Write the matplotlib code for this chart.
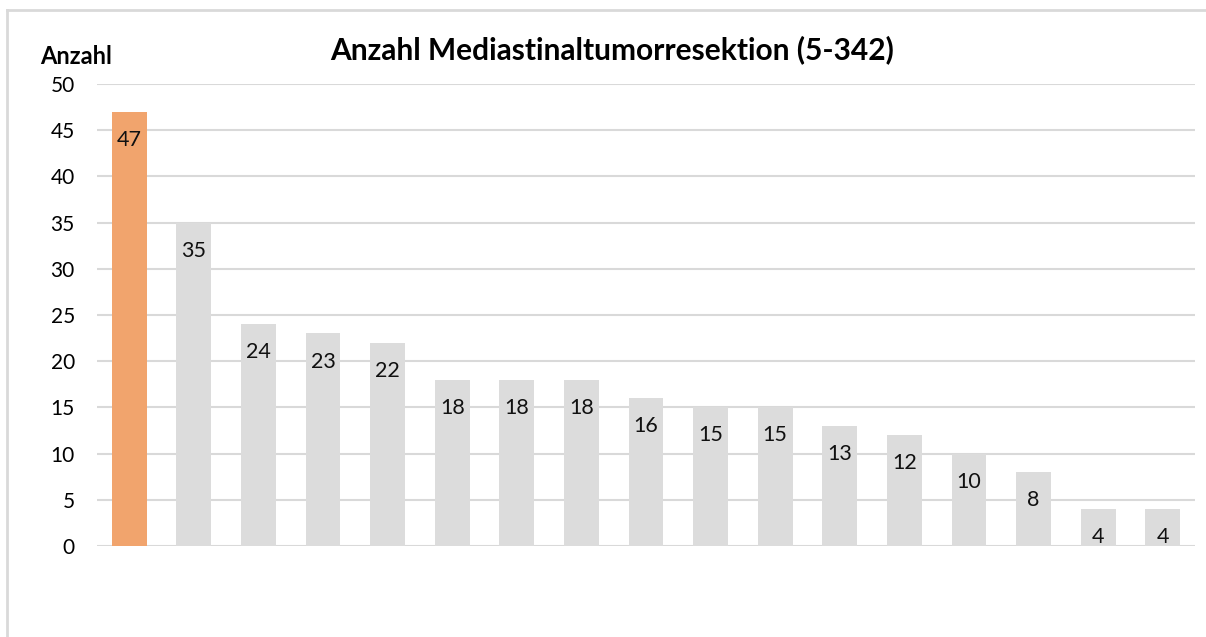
import matplotlib
matplotlib.use("Agg")
import matplotlib.pyplot as plt
from matplotlib.lines import Line2D

plt.rcParams['font.family'] = ['Lato', 'DejaVu Sans']

values = [47, 35, 24, 23, 22, 18, 18, 18, 16, 15, 15, 13, 12, 10, 8, 4, 4]
colors = ['#f1a46d'] + ['#dcdcdc'] * (len(values) - 1)
yticks = [0, 5, 10, 15, 20, 25, 30, 35, 40, 45, 50]

W, H = 1206, 637
fig = plt.figure(figsize=(W / 100, H / 100), dpi=100)

# outer chart border (only top/left visible in the crop)
fig.add_artist(Line2D([7 / W, 7 / W], [0, 1 - 10 / H], color='#d9d9d9', lw=2))
fig.add_artist(Line2D([7 / W, 1], [1 - 10 / H, 1 - 10 / H], color='#d9d9d9', lw=2))

ax = fig.add_axes([97 / W, 1 - 546 / H, (1195 - 97) / W, (546 - 84) / H])
x = list(range(len(values)))
ax.bar(x, values, width=0.54, color=colors, zorder=2)
ax.set_xlim(-0.5, len(values) - 0.5)
ax.set_ylim(0, 50)
ax.set_yticks(yticks)
ax.set_yticklabels([str(t) for t in yticks], fontsize=15)
ax.tick_params(axis='y', length=0, pad=16)
ax.set_xticks([])
ax.grid(axis='y', color='#d9d9d9', lw=1.5, zorder=0)
for s in ax.spines.values():
    s.set_visible(False)

for xi, v in zip(x, values):
    ax.annotate(str(v), (xi, v), xytext=(0, -13), textcoords='offset points',
                ha='center', va='top', fontsize=15.5, color='#111111', zorder=3)

fig.text(612 / W, 1 - 50 / H, 'Anzahl Mediastinaltumorresektion (5-342)',
         ha='center', va='center', fontsize=21.5, fontweight='bold')
fig.text(40 / W, 1 - 57 / H, 'Anzahl', ha='left', va='center',
         fontsize=17, fontweight='bold')

fig.savefig('out.png', dpi=100, facecolor='white')
